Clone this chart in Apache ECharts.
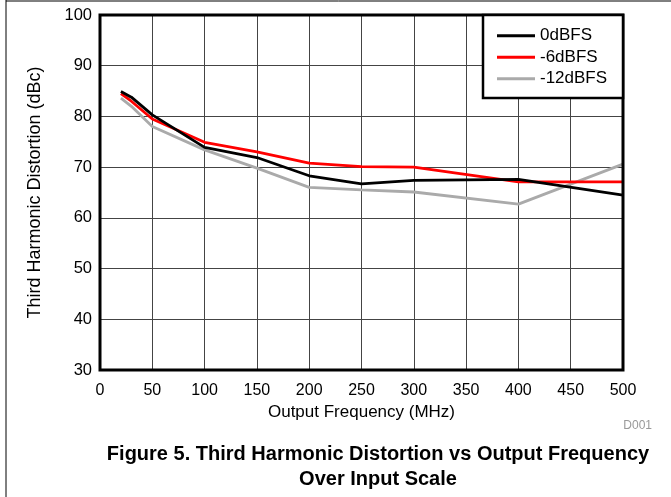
<!DOCTYPE html>
<html>
<head>
<meta charset="utf-8">
<script src="https://cdn.jsdelivr.net/npm/echarts@6/dist/echarts.min.js"></script>
<style>
html,body{margin:0;padding:0;background:#fff;}
#chart{width:671px;height:497px;}
</style>
</head>
<body>
<div id="chart"></div>
<script>
const freqMHz = [20, 30, 50, 100, 150, 200, 250, 300, 400, 500];
const thd0dBFS = [84.9, 83.8, 80.3, 73.9, 71.9, 68.3, 66.7, 67.4, 67.6, 64.5];
const thdNeg6dBFS = [84.5, 83.0, 79.5, 74.9, 73.0, 70.8, 70.1, 70.0, 67.1, 67.1];
const thdNeg12dBFS = [83.6, 82.0, 78.0, 73.4, 69.8, 66.0, 65.5, 65.1, 62.7, 70.6];
const seriesNames = ['0dBFS', '-6dBFS', '-12dBFS'];
const seriesColors = ['#000000', '#ff0000', '#aaaaaa'];
const xTitle = 'Output Frequency (MHz)';
const yTitle = 'Third Harmonic Distortion (dBc)';
const captionLine1 = 'Figure 5. Third Harmonic Distortion vs Output Frequency';
const captionLine2 = 'Over Input Scale';
const figId = 'D001';

const font = 'Liberation Sans, Arial, Helvetica, sans-serif';
const pair = (ys) => freqMHz.map((f, i) => [f, ys[i]]);
const allData = [thd0dBFS, thdNeg6dBFS, thdNeg12dBFS];

const chart = echarts.init(document.getElementById('chart'), null, {renderer: 'canvas'});
chart.setOption({
  backgroundColor: '#fff',
  animation: false,
  textStyle: {fontFamily: font},
  grid: {left: 100, top: 15, width: 523, height: 355, show: true, borderColor: '#000', borderWidth: 3, backgroundColor: 'transparent', z: 5},
  xAxis: {
    type: 'value', min: 0, max: 500, interval: 50,
    name: xTitle, nameLocation: 'middle', nameGap: 33,
    nameTextStyle: {fontSize: 17, color: '#000', fontFamily: font},
    axisLine: {show: false}, axisTick: {show: false},
    axisLabel: {fontSize: 16, color: '#000', margin: 13, fontFamily: font},
    splitLine: {show: true, lineStyle: {color: '#444', width: 1}}
  },
  yAxis: {
    type: 'value', min: 30, max: 100, interval: 10,
    name: yTitle, nameLocation: 'middle', nameGap: 56, nameRotate: 90,
    nameTextStyle: {fontSize: 18, color: '#000', fontFamily: font},
    axisLine: {show: false}, axisTick: {show: false},
    axisLabel: {fontSize: 16.5, color: '#000', margin: 8, fontFamily: font},
    splitLine: {show: true, lineStyle: {color: '#444', width: 1}}
  },
  legend: {
    orient: 'vertical', left: 492, top: 20, itemWidth: 38, itemHeight: 3, itemGap: 0,
    icon: 'rect',
    data: seriesNames,
    textStyle: {fontSize: 17, lineHeight: 21.5, color: '#000', fontFamily: font, padding: [0, 0, 0, 0]},
    backgroundColor: 'transparent', z: 20
  },
  series: seriesNames.map((n, i) => ({
    name: n, type: 'line', data: pair(allData[i]), symbol: 'none', z: 3 - i + 2,
    lineStyle: {color: seriesColors[i], width: 2.8}, itemStyle: {color: seriesColors[i]}
  })),
  graphic: [
    {type: 'rect', shape: {x: 483, y: 15, width: 140, height: 83}, style: {fill: '#fff', stroke: '#000', lineWidth: 2.5}, z: 15},
    {type: 'line', shape: {x1: 6, y1: 0, x2: 6, y2: 497}, style: {stroke: '#000', lineWidth: 1}},
    {type: 'line', shape: {x1: 6, y1: 1, x2: 671, y2: 1}, style: {stroke: '#000', lineWidth: 1}},
    {type: 'text', x: 652, y: 420, style: {text: figId, fontSize: 12, fill: '#999', fontFamily: font, textAlign: 'right'}},
    {type: 'text', x: 378, y: 444, style: {text: captionLine1, fontSize: 20, fontWeight: 'bold', fill: '#000', fontFamily: font, textAlign: 'center'}},
    {type: 'text', x: 378, y: 469, style: {text: captionLine2, fontSize: 20, fontWeight: 'bold', fill: '#000', fontFamily: font, textAlign: 'center'}}
  ]
});
</script>
</body>
</html>
